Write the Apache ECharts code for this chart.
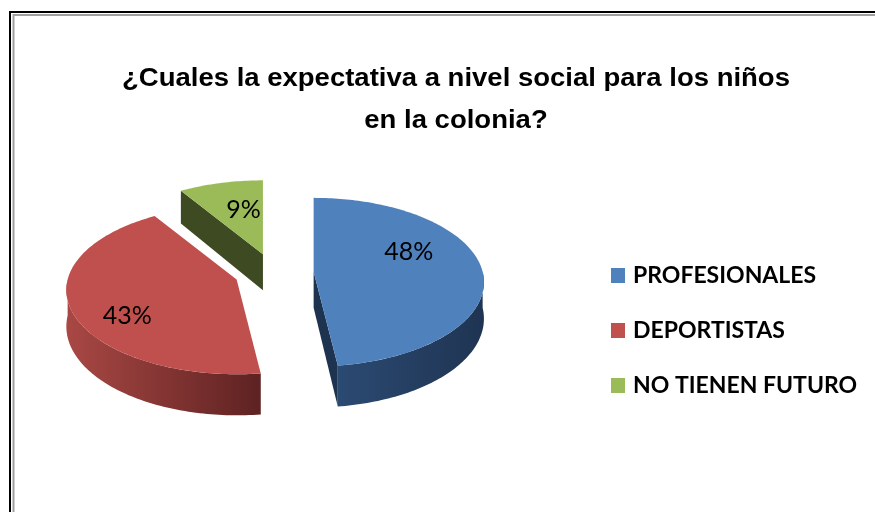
<!DOCTYPE html>
<html><head><meta charset="utf-8">
<script src="https://cdn.jsdelivr.net/npm/echarts@6/dist/echarts.min.js"></script>
<style>html,body{margin:0;padding:0;background:#fff}#main{width:875px;height:512px}</style>
</head><body><div id="main"></div>
<script>
// ---- data ----
const categories = ['PROFESIONALES', 'DEPORTISTAS', 'NO TIENEN FUTURO'];
const values = [48, 43, 9];
const titleLines = ['¿Cuales la expectativa a nivel social para los niños', 'en la colonia?'];

// ---- layout / style ----
const total = values.reduce((a, b) => a + b, 0);
const geo = { cx: 274, cy: 273, rx: 169, ry: 83, persp: 0.123, depth: 36, explode: 0.235, labelFrac: 0.6 };
const titleStyle = { x: 456, y0: 79, lineGap: 42, scaleX: 1.1, fontSize: 25 };
const sliceStyles = [
  { top: '#4F81BD', wall: ['#2B4A72', '#1F3452'], face: '#1E3350', z: 3, nudge: [-6, -17] },
  { top: '#C0504D', wall: ['#A94844', '#5E2222'], face: '#7A2B29', z: 2, nudge: [-14, 19] },
  { top: '#9BBB59', wall: ['#5E7433', '#3D4A22'], face: '#3D4A22', z: 1, nudge: [9, 3] }
];

function makeRender(i) {
  return function (params, api) {
    const v = api.value(0);
    let before = 0;
    for (let k = 0; k < i; k++) before += values[k];
    const a0 = before / total * 2 * Math.PI;
    const a1 = (before + v) / total * 2 * Math.PI;
    const mid = (a0 + a1) / 2;
    const ax = geo.cx + geo.explode * Math.sin(mid) * geo.rx;
    const ay = geo.cy - geo.explode * Math.cos(mid) * geo.ry;
    function P(t, h) {
      const X = Math.sin(t), Y = -Math.cos(t);
      const s = 1 / (1 - geo.persp * Y);
      return [ax + X * geo.rx * s, ay + Y * geo.ry * s + h * s];
    }
    function arc(t0, t1, h) {
      const n = Math.max(2, Math.ceil((t1 - t0) / 0.02));
      const pts = [];
      for (let j = 0; j <= n; j++) pts.push(P(t0 + (t1 - t0) * j / n, h));
      return pts;
    }
    const st = sliceStyles[i];
    const children = [];
    const apexTop = [ax, ay], apexBot = [ax, ay + geo.depth];
    if (Math.sin(a0) < -1e-6) {
      children.push({ type: 'polygon', shape: { points: [apexTop, P(a0, 0), P(a0, geo.depth), apexBot] }, style: { fill: st.face } });
    }
    if (Math.sin(a1) > 1e-6) {
      children.push({ type: 'polygon', shape: { points: [apexTop, P(a1, 0), P(a1, geo.depth), apexBot] }, style: { fill: st.face } });
    }
    const w0 = Math.max(a0, Math.PI / 2), w1 = Math.min(a1, 3 * Math.PI / 2);
    if (w1 > w0) {
      const topArc = arc(w0, w1, 0), botArc = arc(w0, w1, geo.depth).reverse();
      children.push({
        type: 'polygon', shape: { points: topArc.concat(botArc) },
        style: { fill: { type: 'linear', x: 0, y: 0, x2: 1, y2: 0, colorStops: [{ offset: 0, color: st.wall[0] }, { offset: 1, color: st.wall[1] }] } }
      });
    }
    children.push({ type: 'polygon', shape: { points: [apexTop].concat(arc(a0, a1, 0)) }, style: { fill: st.top } });
    const lx = ax + geo.labelFrac * Math.sin(mid) * geo.rx + st.nudge[0];
    const ly = ay - geo.labelFrac * Math.cos(mid) * geo.ry + st.nudge[1];
    children.push({
      type: 'text',
      style: { text: Math.round(v / total * 100) + '%', x: lx, y: ly, align: 'center', verticalAlign: 'middle', fontSize: 25, fontFamily: 'Lato', fill: '#000' }
    });
    return { type: 'group', children: children };
  };
}

const chart = echarts.init(document.getElementById('main'), null, { renderer: 'canvas' });
chart.setOption({
  animation: false,
  backgroundColor: '#fff',
  legend: {
    orient: 'vertical', left: 611, top: 264, padding: 0, icon: 'rect', itemWidth: 14, itemHeight: 15, itemGap: 32,
    data: categories,
    textStyle: { fontFamily: 'Lato', fontWeight: 'bold', fontSize: 23, lineHeight: 20, color: '#000', padding: [0, 0, 0, 3] }
  },
  graphic: [
    { type: 'rect', silent: true, shape: { x: 10, y: 12, width: 900, height: 600 }, style: { fill: 'none', stroke: '#000', lineWidth: 2 } },
    { type: 'rect', silent: true, shape: { x: 13.5, y: 15, width: 900, height: 600 }, style: { fill: 'none', stroke: '#A0A0A0', lineWidth: 2 } }
  ].concat(titleLines.map((line, k) => ({
    type: 'text', silent: true, x: titleStyle.x, y: titleStyle.y0 + k * titleStyle.lineGap, scaleX: titleStyle.scaleX,
    style: { text: line, align: 'center', verticalAlign: 'middle', fontFamily: 'Liberation Sans, Arial', fontWeight: 'bold', fontSize: titleStyle.fontSize, fill: '#000' }
  }))),
  series: categories.map((name, i) => ({
    type: 'custom', name: name, coordinateSystem: 'none', z: sliceStyles[i].z,
    itemStyle: { color: sliceStyles[i].top },
    renderItem: makeRender(i),
    data: [[values[i]]]
  }))
});
</script></body></html>
